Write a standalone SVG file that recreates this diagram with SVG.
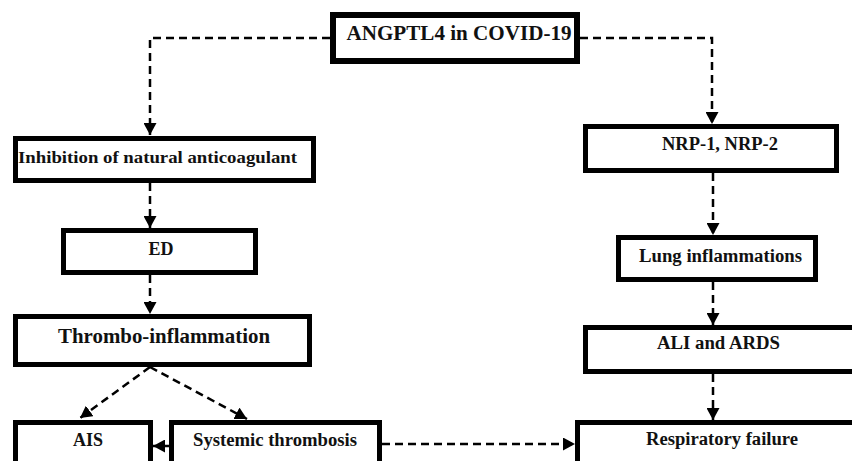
<svg xmlns="http://www.w3.org/2000/svg" width="852" height="461" viewBox="0 0 852 461">
<style>
.box{fill:#fff;stroke:#000;stroke-width:5}
.t{font-family:"Liberation Serif","Times New Roman",serif;font-weight:bold;font-size:18px;fill:#111;text-anchor:middle}
.c{fill:none;stroke:#000;stroke-width:2.5;stroke-dasharray:8 5}
</style>
<defs>
<marker id="ah" markerUnits="userSpaceOnUse" markerWidth="13" markerHeight="13" refX="12" refY="6.5" orient="auto" viewBox="0 0 13 13">
<path d="M0,0 L12,6.5 L0,13 z" fill="#000"/>
</marker>
</defs>
<rect width="852" height="461" fill="#fff"/>
<g id="connectors">
<path class="c" d="M330,38 H150 V135" marker-end="url(#ah)"/>
<path class="c" d="M580,38 H712 V124" marker-end="url(#ah)"/>
<path class="c" d="M150,183 V228" marker-end="url(#ah)"/>
<path class="c" d="M150,275 V314" marker-end="url(#ah)"/>
<path class="c" d="M150,367 L80,418" marker-end="url(#ah)"/>
<path class="c" d="M150,367 L247,419" marker-end="url(#ah)"/>
<path class="c" d="M169,446 L153,446" marker-end="url(#ah)"/>
<path class="c" d="M382,444 L575,444" marker-end="url(#ah)"/>
<path class="c" d="M713,173 V235" marker-end="url(#ah)"/>
<path class="c" d="M713,282 V325" marker-end="url(#ah)"/>
<path class="c" d="M713,374 V420" marker-end="url(#ah)"/>
</g>
<g id="angptl4">
<rect class="box" x="333" y="15" width="244" height="46" style="stroke-width:6"/>
<text class="t" x="459" y="40" style="font-size:20px" textLength="225" lengthAdjust="spacingAndGlyphs">ANGPTL4 in COVID-19</text>
</g>
<g id="inhibition">
<rect class="box" x="15.5" y="138.5" width="298" height="42"/>
<text class="t" x="18" y="163" style="font-size:17px;text-anchor:start" textLength="279" lengthAdjust="spacingAndGlyphs">Inhibition of natural anticoagulant</text>
</g>
<g id="ed">
<rect class="box" x="63.5" y="230.5" width="192" height="42"/>
<text class="t" x="161" y="255">ED</text>
</g>
<g id="thrombo">
<rect class="box" x="15.5" y="316.5" width="294" height="48"/>
<text class="t" x="164" y="343" style="font-size:20px" textLength="212" lengthAdjust="spacingAndGlyphs">Thrombo-inflammation</text>
</g>
<g id="ais">
<rect class="box" x="15.5" y="422.5" width="135" height="50"/>
<text class="t" x="88" y="446">AIS</text>
</g>
<g id="systemic">
<rect class="box" x="171.5" y="422.5" width="208" height="50"/>
<text class="t" x="275" y="446" textLength="164" lengthAdjust="spacingAndGlyphs">Systemic thrombosis</text>
</g>
<g id="nrp">
<rect class="box" x="585.5" y="126.5" width="251" height="44"/>
<text class="t" x="720" y="150" textLength="116" lengthAdjust="spacingAndGlyphs">NRP-1, NRP-2</text>
</g>
<g id="lung">
<rect class="box" x="618.5" y="237.5" width="197" height="42"/>
<text class="t" x="720.5" y="262" textLength="163" lengthAdjust="spacingAndGlyphs">Lung inflammations</text>
</g>
<g id="ali">
<rect class="box" x="585.5" y="327.5" width="270" height="44"/>
<text class="t" x="718.5" y="349" textLength="123" lengthAdjust="spacingAndGlyphs">ALI and ARDS</text>
</g>
<g id="respiratory">
<rect class="box" x="577.5" y="422.5" width="290" height="50"/>
<text class="t" x="722" y="445" textLength="152" lengthAdjust="spacingAndGlyphs">Respiratory failure</text>
</g>
</svg>
